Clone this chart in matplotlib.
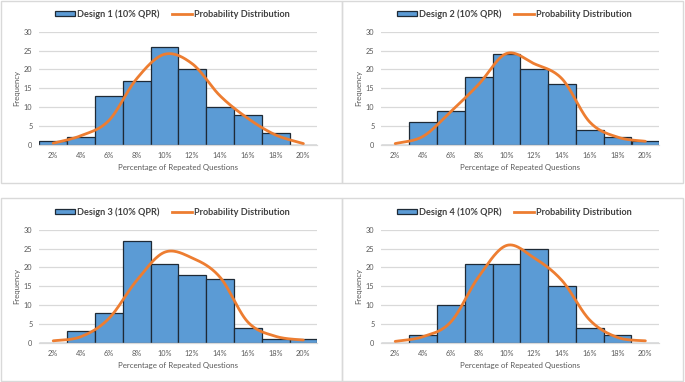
import numpy as np
import matplotlib
matplotlib.use("Agg")
import matplotlib.pyplot as plt
from matplotlib.patches import Rectangle, Patch
from matplotlib.lines import Line2D

categories = ["2%", "4%", "6%", "8%", "10%", "12%", "14%", "16%", "18%", "20%"]

design_names = ["Design 1 (10% QPR)", "Design 2 (10% QPR)",
                "Design 3 (10% QPR)", "Design 4 (10% QPR)"]

freq_d1 = [1, 2, 13, 17, 26, 20, 10, 8, 3, 0]
freq_d2 = [0, 6, 9, 18, 24, 20, 16, 4, 2, 1]
freq_d3 = [0, 3, 8, 27, 21, 18, 17, 4, 1, 1]
freq_d4 = [0, 2, 10, 21, 21, 25, 15, 4, 2, 0]

prob_d1 = [0.4, 2.4, 6.4, 17.5, 24.0, 21.5, 13.0, 7.0, 2.6, 0.3]
prob_d2 = [0.3, 2.2, 8.8, 16.0, 24.2, 21.5, 17.5, 6.0, 2.0, 0.9]
prob_d3 = [0.5, 1.6, 6.4, 16.5, 24.0, 22.5, 17.4, 5.5, 1.7, 0.7]
prob_d4 = [0.35, 1.6, 5.5, 17.5, 25.8, 22.5, 16.5, 6.0, 1.4, 0.5]

y_ticks = [0, 5, 10, 15, 20, 25, 30]

freqs = [freq_d1, freq_d2, freq_d3, freq_d4]
probs = [prob_d1, prob_d2, prob_d3, prob_d4]

BAR = "#5B9BD5"
EDGE = "#1E2A36"
ORANGE = "#ED7D31"
GRID = "#D9D9D9"
TXT = "#595959"
FONT = "Lato"

W, H = 685, 382
fig = plt.figure(figsize=(W / 100, H / 100), dpi=100)
fig.patch.set_facecolor("white")


def smooth(xs, ys, n=30):
    """Excel-like smoothed line (Catmull-Rom Bezier) through the data points."""
    xs = np.asarray(xs, float)
    ys = np.asarray(ys, float)
    px = np.concatenate([[xs[0]], xs, [xs[-1]]])
    py = np.concatenate([[ys[0]], ys, [ys[-1]]])
    outx, outy = [], []
    t = np.linspace(0, 1, n)
    for i in range(1, len(px) - 2):
        p0x, p1x, p2x, p3x = px[i - 1], px[i], px[i + 1], px[i + 2]
        p0y, p1y, p2y, p3y = py[i - 1], py[i], py[i + 1], py[i + 2]
        c1x, c1y = p1x + (p2x - p0x) / 6, p1y + (p2y - p0y) / 6
        c2x, c2y = p2x - (p3x - p1x) / 6, p2y - (p3y - p1y) / 6
        bx = (1 - t) ** 3 * p1x + 3 * (1 - t) ** 2 * t * c1x + 3 * (1 - t) * t ** 2 * c2x + t ** 3 * p2x
        by = (1 - t) ** 3 * p1y + 3 * (1 - t) ** 2 * t * c1y + 3 * (1 - t) * t ** 2 * c2y + t ** 3 * p2y
        outx.extend(bx)
        outy.extend(by)
    return np.array(outx), np.array(outy)


def px_rect(x0, y0, x1, y1):
    return Rectangle((x0 / W, 1 - y1 / H), (x1 - x0) / W, (y1 - y0) / H,
                     transform=fig.transFigure, fill=False, edgecolor=GRID,
                     linewidth=1.0, zorder=0)


# panel frames
fig.patches.append(px_rect(0.5, 0.5, 342, 183.3))
fig.patches.append(px_rect(342, 0.5, 683, 183.3))
fig.patches.append(px_rect(0.5, 198.3, 342, 381))
fig.patches.append(px_rect(342, 198.3, 683, 381))

offsets = [(0, 0), (342, 0), (0, 198), (342, 198)]

for k in range(4):
    ox, oy = offsets[k]
    left, right = 39.3 + ox, 317.3 + ox
    top, bottom = 31.7 + oy, 144.7 + oy
    ax = fig.add_axes([left / W, 1 - bottom / H, (right - left) / W, (bottom - top) / H])
    x = np.arange(len(categories))
    ax.bar(x, freqs[k], width=1.0, color=BAR, edgecolor=EDGE, linewidth=0.9, zorder=2)
    sx, sy = smooth(x, probs[k])
    ax.plot(sx, sy, color=ORANGE, linewidth=2.0, zorder=3, solid_capstyle="round")
    ax.set_xlim(-0.5, len(categories) - 0.5)
    ax.set_ylim(0, 30)
    ax.set_yticks(y_ticks)
    ax.set_xticks(x)
    ax.set_xticklabels(categories)
    ax.yaxis.grid(True, color=GRID, linewidth=0.9, zorder=0)
    ax.set_axisbelow(True)
    for s in ["top", "right", "left"]:
        ax.spines[s].set_visible(False)
    ax.spines["bottom"].set_color(GRID)
    ax.spines["bottom"].set_linewidth(0.9)
    ax.tick_params(length=0, labelsize=5.3, colors=TXT, pad=5)
    for lab in ax.get_xticklabels() + ax.get_yticklabels():
        lab.set_fontfamily(FONT)
    ax.text(-0.081, 0.5, "Frequency", transform=ax.transAxes, rotation=90,
            ha="center", va="center", fontsize=5.6, color=TXT, family=FONT)
    ax.text(0.5, -0.2, "Percentage of Repeated Questions", transform=ax.transAxes,
            ha="center", va="center", fontsize=5.7, color=TXT, family=FONT)
    handles = [Patch(facecolor=BAR, edgecolor=EDGE, linewidth=0.9),
               Line2D([0], [0], color=ORANGE, linewidth=2.0)]
    leg = ax.legend(handles, [design_names[k], "Probability Distribution"],
                    loc="center", bbox_to_anchor=(0.478, 1.157), ncol=2,
                    frameon=False, handlelength=2.2, handleheight=0.6,
                    handletextpad=0.2, columnspacing=1.4,
                    prop={"family": FONT, "size": 6.6, "weight": "bold"})
    for t in leg.get_texts():
        t.set_color("#404040")

fig.savefig("out.png", dpi=100, facecolor="white")
